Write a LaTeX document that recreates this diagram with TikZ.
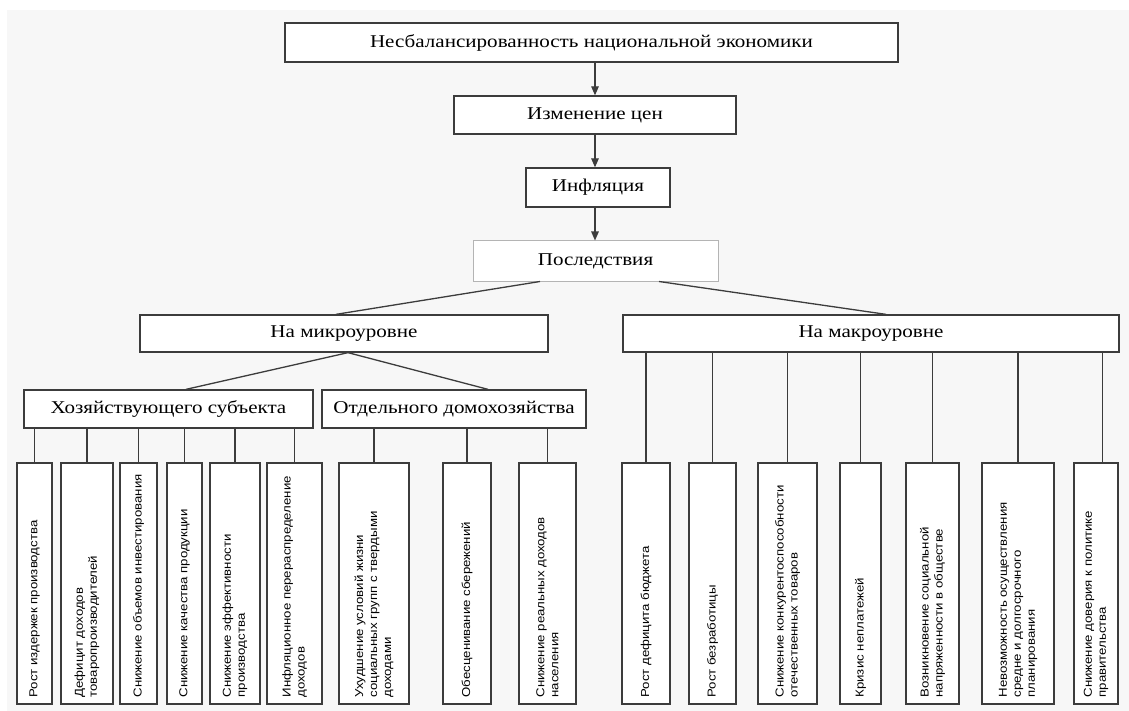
\documentclass[tikz,border=0pt]{standalone}
\usepackage{fontspec}
\setmainfont{Liberation Serif}
\newfontfamily\levelfont[FakeStretch=1.17]{Liberation Serif}
\newfontfamily\boxfont[FakeStretch=1.15]{Liberation Sans}
\usetikzlibrary{calc,arrows.meta}

\definecolor{pagegray}{HTML}{F7F7F7}
\definecolor{linegray}{HTML}{3C3C3C}
\definecolor{lightedge}{HTML}{B4B4B4}

\tikzset{
  levelbox/.style={draw=linegray, line width=1.3pt, fill=white, inner sep=0pt,
    font=\levelfont\fontsize{18}{20}\selectfont},
  leafbox/.style={draw=linegray, line width=1.3pt, fill=white, inner sep=0pt,
    minimum height=241pt},
  leaftext/.style={rotate=90, anchor=west, align=left, inner sep=0pt,
    font=\boxfont\fontsize{11.5}{14}\selectfont},
  link/.style={draw=linegray, line width=1.3pt},
  flow/.style={link, -{Triangle[length=9pt,width=7.5pt]}}
}

\begin{document}
\begin{tikzpicture}[x=1pt, y=-1pt]
  \useasboundingbox (0,0) rectangle (1129,711);
  \fill[pagegray] (7,10) rectangle (1129,711);

  % chain at the top
  \node[levelbox, minimum width=613pt, minimum height=39pt] (imbalance) at (591.5,42.5) {Несбалансированность национальной экономики};
  \node[levelbox, minimum width=282pt, minimum height=38pt] (prices) at (595,115) {Изменение цен};
  \node[levelbox, minimum width=144pt, minimum height=39pt] (inflation) at (598,187.5) {Инфляция};
  \node[levelbox, draw=lightedge, line width=1pt, minimum width=245pt, minimum height=40pt] (effects) at (595.5,261) {Последствия};

  \draw[flow] (imbalance.south -| prices.north) -- (prices.north);
  \draw[flow] (prices.south) -- (prices.south |- inflation.north);
  \draw[flow] (prices.south |- inflation.south) -- (prices.south |- effects.north);

  % levels
  \node[levelbox, minimum width=408pt, minimum height=37pt] (micro) at (344,333.5) {На микроуровне};
  \node[levelbox, minimum width=496pt, minimum height=37pt] (macro) at (871,333.5) {На макроуровне};
  \node[levelbox, minimum width=289pt, minimum height=38pt] (firm) at (168.5,409) {Хозяйствующего субъекта};
  \node[levelbox, minimum width=264pt, minimum height=38pt] (household) at (454,409) {Отдельного домохозяйства};

  \draw[link] ([xshift=-55.5pt]effects.south) -- ([xshift=-8pt]micro.north);
  \draw[link] ([xshift=63.5pt]effects.south) -- ([xshift=15pt]macro.north);
  \draw[link] ([xshift=4pt]micro.south) -- ([xshift=17.5pt]firm.north);
  \draw[link] ([xshift=4pt]micro.south) -- ([xshift=34pt]household.north);

  % consequences for the firm
  \node[leafbox, minimum width=35pt] (firmA) at (34.5,583.5) {};
  \node[leafbox, minimum width=52pt] (firmB) at (87,583.5) {};
  \node[leafbox, minimum width=37pt] (firmC) at (138.5,583.5) {};
  \node[leafbox, minimum width=35pt] (firmD) at (184.5,583.5) {};
  \node[leafbox, minimum width=50pt] (firmE) at (235,583.5) {};
  \node[leafbox, minimum width=55pt] (firmF) at (294.5,583.5) {};

  % consequences for the household
  \node[leafbox, minimum width=70pt] (homeA) at (374,583.5) {};
  \node[leafbox, minimum width=48pt] (homeB) at (467,583.5) {};
  \node[leafbox, minimum width=57pt] (homeC) at (547.5,583.5) {};

  % consequences for the economy
  \node[leafbox, minimum width=48pt] (macroA) at (646,583.5) {};
  \node[leafbox, minimum width=47pt] (macroB) at (712.5,583.5) {};
  \node[leafbox, minimum width=59pt] (macroC) at (787.5,583.5) {};
  \node[leafbox, minimum width=41pt] (macroD) at (860.5,583.5) {};
  \node[leafbox, minimum width=53pt] (macroE) at (932.5,583.5) {};
  \node[leafbox, minimum width=72pt] (macroF) at (1018,583.5) {};
  \node[leafbox, minimum width=44pt] (macroG) at (1096,583.5) {};

  \node[leaftext] (tA) at ([yshift=7pt]firmA.south) {Рост издержек производства};
  \node[leaftext] (tB) at ([yshift=7pt]firmB.south) {Дефицит доходов\\товаропроизводителей};
  \node[leaftext] (tC) at ([yshift=7pt]firmC.south) {Снижение объемов инвестирования};
  \node[leaftext] (tD) at ([yshift=7pt]firmD.south) {Снижение качества продукции};
  \node[leaftext] (tE) at ([yshift=7pt]firmE.south) {Снижение эффективности\\производства};
  \node[leaftext] (tF) at ([yshift=7pt]firmF.south) {Инфляционное перераспределение\\доходов};
  \node[leaftext] (tG) at ([yshift=7pt]homeA.south) {Ухудшение условий жизни\\социальных групп с твердыми\\доходами};
  \node[leaftext] (tH) at ([yshift=7pt]homeB.south) {Обесценивание сбережений};
  \node[leaftext] (tI) at ([yshift=7pt]homeC.south) {Снижение реальных доходов\\населения};
  \node[leaftext] (tJ) at ([yshift=7pt]macroA.south) {Рост дефицита бюджета};
  \node[leaftext] (tK) at ([yshift=7pt]macroB.south) {Рост безработицы};
  \node[leaftext] (tL) at ([yshift=7pt]macroC.south) {Снижение конкурентоспособности\\отечественных товаров};
  \node[leaftext] (tM) at ([yshift=7pt]macroD.south) {Кризис неплатежей};
  \node[leaftext] (tN) at ([yshift=7pt]macroE.south) {Возникновение социальной\\напряженности в обществе};
  \node[leaftext] (tO) at ([yshift=7pt]macroF.south) {Невозможность осуществления\\средне и долгосрочного\\планирования};
  \node[leaftext] (tP) at ([yshift=7pt]macroG.south) {Снижение доверия к политике\\правительства};

  % drops
  \foreach \leaf in {firmA,firmB,firmC,firmD,firmE,firmF}
    \draw[link] (\leaf.north) -- (\leaf.north |- firm.south);
  \foreach \leaf in {homeA,homeB,homeC}
    \draw[link] (\leaf.north) -- (\leaf.north |- household.south);
  \foreach \leaf in {macroA,macroB,macroC,macroD,macroE,macroF}
    \draw[link] (\leaf.north) -- (\leaf.north |- macro.south);
  \draw[link] ([xshift=6.5pt]macroG.north) -- ([xshift=6.5pt]macroG.north |- macro.south);

\end{tikzpicture}
\end{document}
